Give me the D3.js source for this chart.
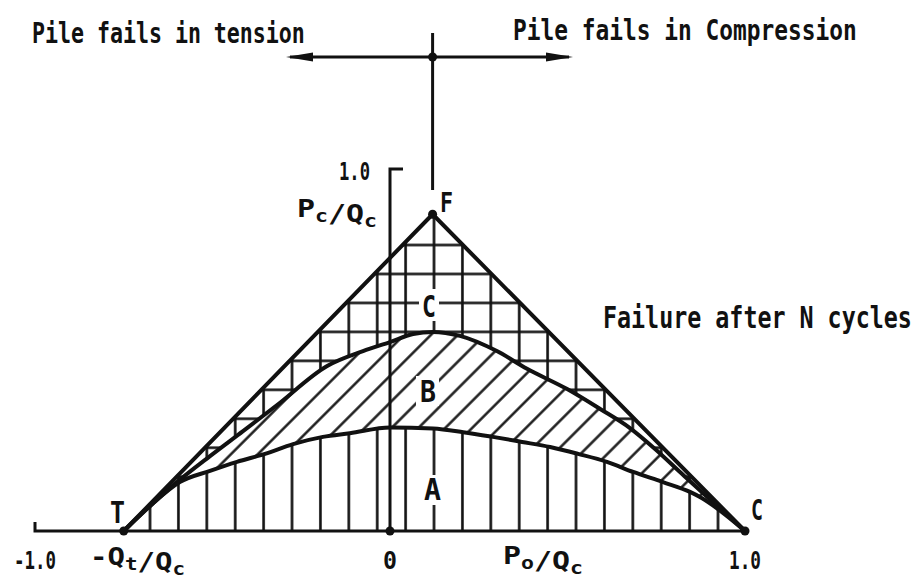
<!DOCTYPE html>
<html>
<head>
<meta charset="utf-8">
<script src="https://cdn.jsdelivr.net/npm/d3@7"></script>
<style>
body { margin: 0; background: #fff; }
text { font-family: "DejaVu Sans Mono", monospace; font-weight: bold; fill: #111; }
</style>
</head>
<body>
<div id="chart"></div>
<script>
var width = 915,
    height = 581;

// failure envelope T - F - C  (Po/Qc, Pc/Qc)
var envelope = [[-0.75, 0], [0.12, 0.875], [1.0, 0]];

// upper boundary of zone B (failure after N cycles)
var curveB = [[-0.75, 0], [-0.675, 0.07], [-0.60, 0.135], [-0.507, 0.207], [-0.414, 0.276],
    [-0.318, 0.348], [-0.177, 0.456], [-0.076, 0.497], [0, 0.522], [0.065, 0.544],
    [0.121, 0.55], [0.197, 0.539], [0.301, 0.497], [0.386, 0.448], [0.499, 0.392],
    [0.592, 0.337], [0.675, 0.285], [0.745, 0.228], [0.82, 0.16], [0.90, 0.088], [1.0, 0]];

// upper boundary of zone A
var curveA = [[-0.75, 0], [-0.675, 0.07], [-0.592, 0.135], [-0.507, 0.166], [-0.431, 0.191],
    [-0.352, 0.213], [-0.273, 0.24], [-0.189, 0.26], [-0.113, 0.27], [0, 0.286],
    [0.121, 0.283], [0.206, 0.273], [0.29, 0.26], [0.372, 0.246], [0.451, 0.232],
    [0.53, 0.213], [0.611, 0.191], [0.685, 0.163], [0.769, 0.135], [0.845, 0.108],
    [0.873, 0.094], [1.0, 0]];

var xTicks = [-1.0, 0, 1.0];
var xTickLabels = ["-1.0", "0", "1.0"];
var yTicks = [1.0];
var yTickLabels = ["1.0"];

// hatch spacing in chart units
var hatchStep = 0.08;
var hatchX0 = 0.124;
var hatchY0 = 0.55;

var svg = d3.select("#chart").append("svg")
    .attr("width", width)
    .attr("height", height);

var x = d3.scaleLinear().domain([-1, 1]).range([35, 745]);
var y = d3.scaleLinear().domain([0, 1]).range([531, 169]);

var pw = x(hatchStep) - x(0),
    ph = y(0) - y(hatchStep);

var defs = svg.append("defs");

// lines sit in the middle of each tile so the stroke is not cut
var grid = defs.append("pattern").attr("id", "grid")
    .attr("patternUnits", "userSpaceOnUse")
    .attr("x", x(hatchX0) - pw / 2).attr("y", y(hatchY0) - ph / 2)
    .attr("width", pw).attr("height", ph);
grid.append("rect").attr("width", pw).attr("height", ph).attr("fill", "#fff");
grid.append("path").attr("d", "M" + pw / 2 + ",0V" + ph + "M0," + ph / 2 + "H" + pw)
    .attr("stroke", "#111").attr("stroke-width", 2.6);

var vert = defs.append("pattern").attr("id", "vert")
    .attr("patternUnits", "userSpaceOnUse")
    .attr("x", x(hatchX0) - pw / 2).attr("y", 0)
    .attr("width", pw).attr("height", 10);
vert.append("rect").attr("width", pw).attr("height", 10).attr("fill", "#fff");
vert.append("path").attr("d", "M" + pw / 2 + ",0V10")
    .attr("stroke", "#111").attr("stroke-width", 2.6);

var diag = defs.append("pattern").attr("id", "diag")
    .attr("patternUnits", "userSpaceOnUse")
    .attr("width", 19).attr("height", 10)
    .attr("patternTransform", "rotate(45)");
diag.append("rect").attr("width", 19).attr("height", 10).attr("fill", "#fff");
diag.append("path").attr("d", "M9.5,0V10")
    .attr("stroke", "#111").attr("stroke-width", 2.4);

var line = d3.line()
    .x(function (d) { return x(d[0]); })
    .y(function (d) { return y(d[1]); });

var smooth = d3.line()
    .x(function (d) { return x(d[0]); })
    .y(function (d) { return y(d[1]); })
    .curve(d3.curveMonotoneX);

var area = d3.area()
    .x(function (d) { return x(d[0]); })
    .y0(y(0))
    .y1(function (d) { return y(d[1]); })
    .curve(d3.curveMonotoneX);

// zones: C (grid), B (diagonal), A (vertical)
svg.append("path").attr("d", line(envelope) + "Z").attr("fill", "url(#grid)");
svg.append("path").attr("d", area(curveB)).attr("fill", "url(#diag)");
svg.append("path").attr("d", area(curveA)).attr("fill", "url(#vert)");

// white gaps behind zone letters
var gaps = [[419, 289, 20, 32], [416, 376, 23, 30], [421, 475, 23, 30]];
svg.selectAll("rect.gap").data(gaps).enter().append("rect")
    .attr("class", "gap")
    .attr("x", function (d) { return d[0]; })
    .attr("y", function (d) { return d[1]; })
    .attr("width", function (d) { return d[2]; })
    .attr("height", function (d) { return d[3]; })
    .attr("fill", "#fff");

// axes
var ax = svg.append("g").attr("fill", "none").attr("stroke", "#111").attr("stroke-width", 3);
ax.append("path").attr("d", "M" + x(-1) + "," + (y(0) - 9) + "V" + y(0) + "H" + x(1));
ax.append("path").attr("d", "M" + x(0) + "," + y(0) + "V" + y(1) + "h13");

// envelope and curves
svg.append("path").attr("d", line(envelope))
    .attr("fill", "none").attr("stroke", "#111").attr("stroke-width", 4)
    .attr("stroke-linejoin", "round");
[curveB, curveA].forEach(function (c) {
    svg.append("path").attr("d", smooth(c))
        .attr("fill", "none").attr("stroke", "#111").attr("stroke-width", 4);
});

// top direction arrows
var fx = x(envelope[1][0]);
var arrows = svg.append("g");
arrows.append("path").attr("d", "M" + fx + ",33V190").attr("stroke", "#111").attr("stroke-width", 3);
arrows.append("path").attr("d", "M290,57H569").attr("stroke", "#111").attr("stroke-width", 2.8);
arrows.append("path").attr("d", "M286,57L313,52.5L313,61.5Z").attr("fill", "#111");
arrows.append("path").attr("d", "M573,57L546,52.5L546,61.5Z").attr("fill", "#111");

// dots
var dots = envelope.concat([[0, 0]]);
svg.selectAll("circle.pt").data(dots).enter().append("circle")
    .attr("class", "pt")
    .attr("cx", function (d) { return x(d[0]); })
    .attr("cy", function (d) { return y(d[1]); })
    .attr("r", 4.5).attr("fill", "#111");
svg.append("circle").attr("cx", fx).attr("cy", 57).attr("r", 4.5).attr("fill", "#111");

// condensed plotter-like lettering
function label(parts, x0, yb, size, w) {
    var g = svg.append("g");
    var t = g.append("text").attr("font-size", size);
    parts.forEach(function (p) {
        if (typeof p === "string") {
            t.append("tspan").text(p);
        } else {
            t.append("tspan").attr("font-size", size * 0.72).attr("dy", size * 0.2).text(p.sub);
            t.append("tspan").attr("dy", -size * 0.2).text("");
        }
    });
    var nat = t.node().getBBox().width;
    g.attr("transform", "translate(" + x0 + "," + yb + ") scale(" + (w / nat) + ",1)");
}

label(["Pile fails in tension"], 32, 43, 29, 273);
label(["Pile fails in Compression"], 513, 40, 29, 344);
label(["Failure after N cycles"], 603, 328, 30, 309);

label([yTickLabels[0]], x(0) - 51, y(yTicks[0]) + 11, 25, 31);
label(["P", {sub: "c"}, "/Q", {sub: "c"}], 297, 217, 25, 80);

label(["F"], 440, 212, 26, 13);
label(["C"], 422, 317, 30, 14);
label(["B"], 420, 402, 30, 16);
label(["A"], 424, 500, 30, 17);
label(["T"], 110, 523, 30, 15);
label(["C"], 751, 520, 28, 12);

// x tick labels
var tickW = [42, 14, 32];
xTicks.forEach(function (v, i) {
    label([xTickLabels[i]], x(v) - tickW[i] / 2, 569, 25, tickW[i]);
});
label(["-Q", {sub: "t"}, "/Q", {sub: "c"}], 90, 565, 25, 95);
label(["P", {sub: "o"}, "/Q", {sub: "c"}], 503, 564, 25, 80);
</script>
</body>
</html>
